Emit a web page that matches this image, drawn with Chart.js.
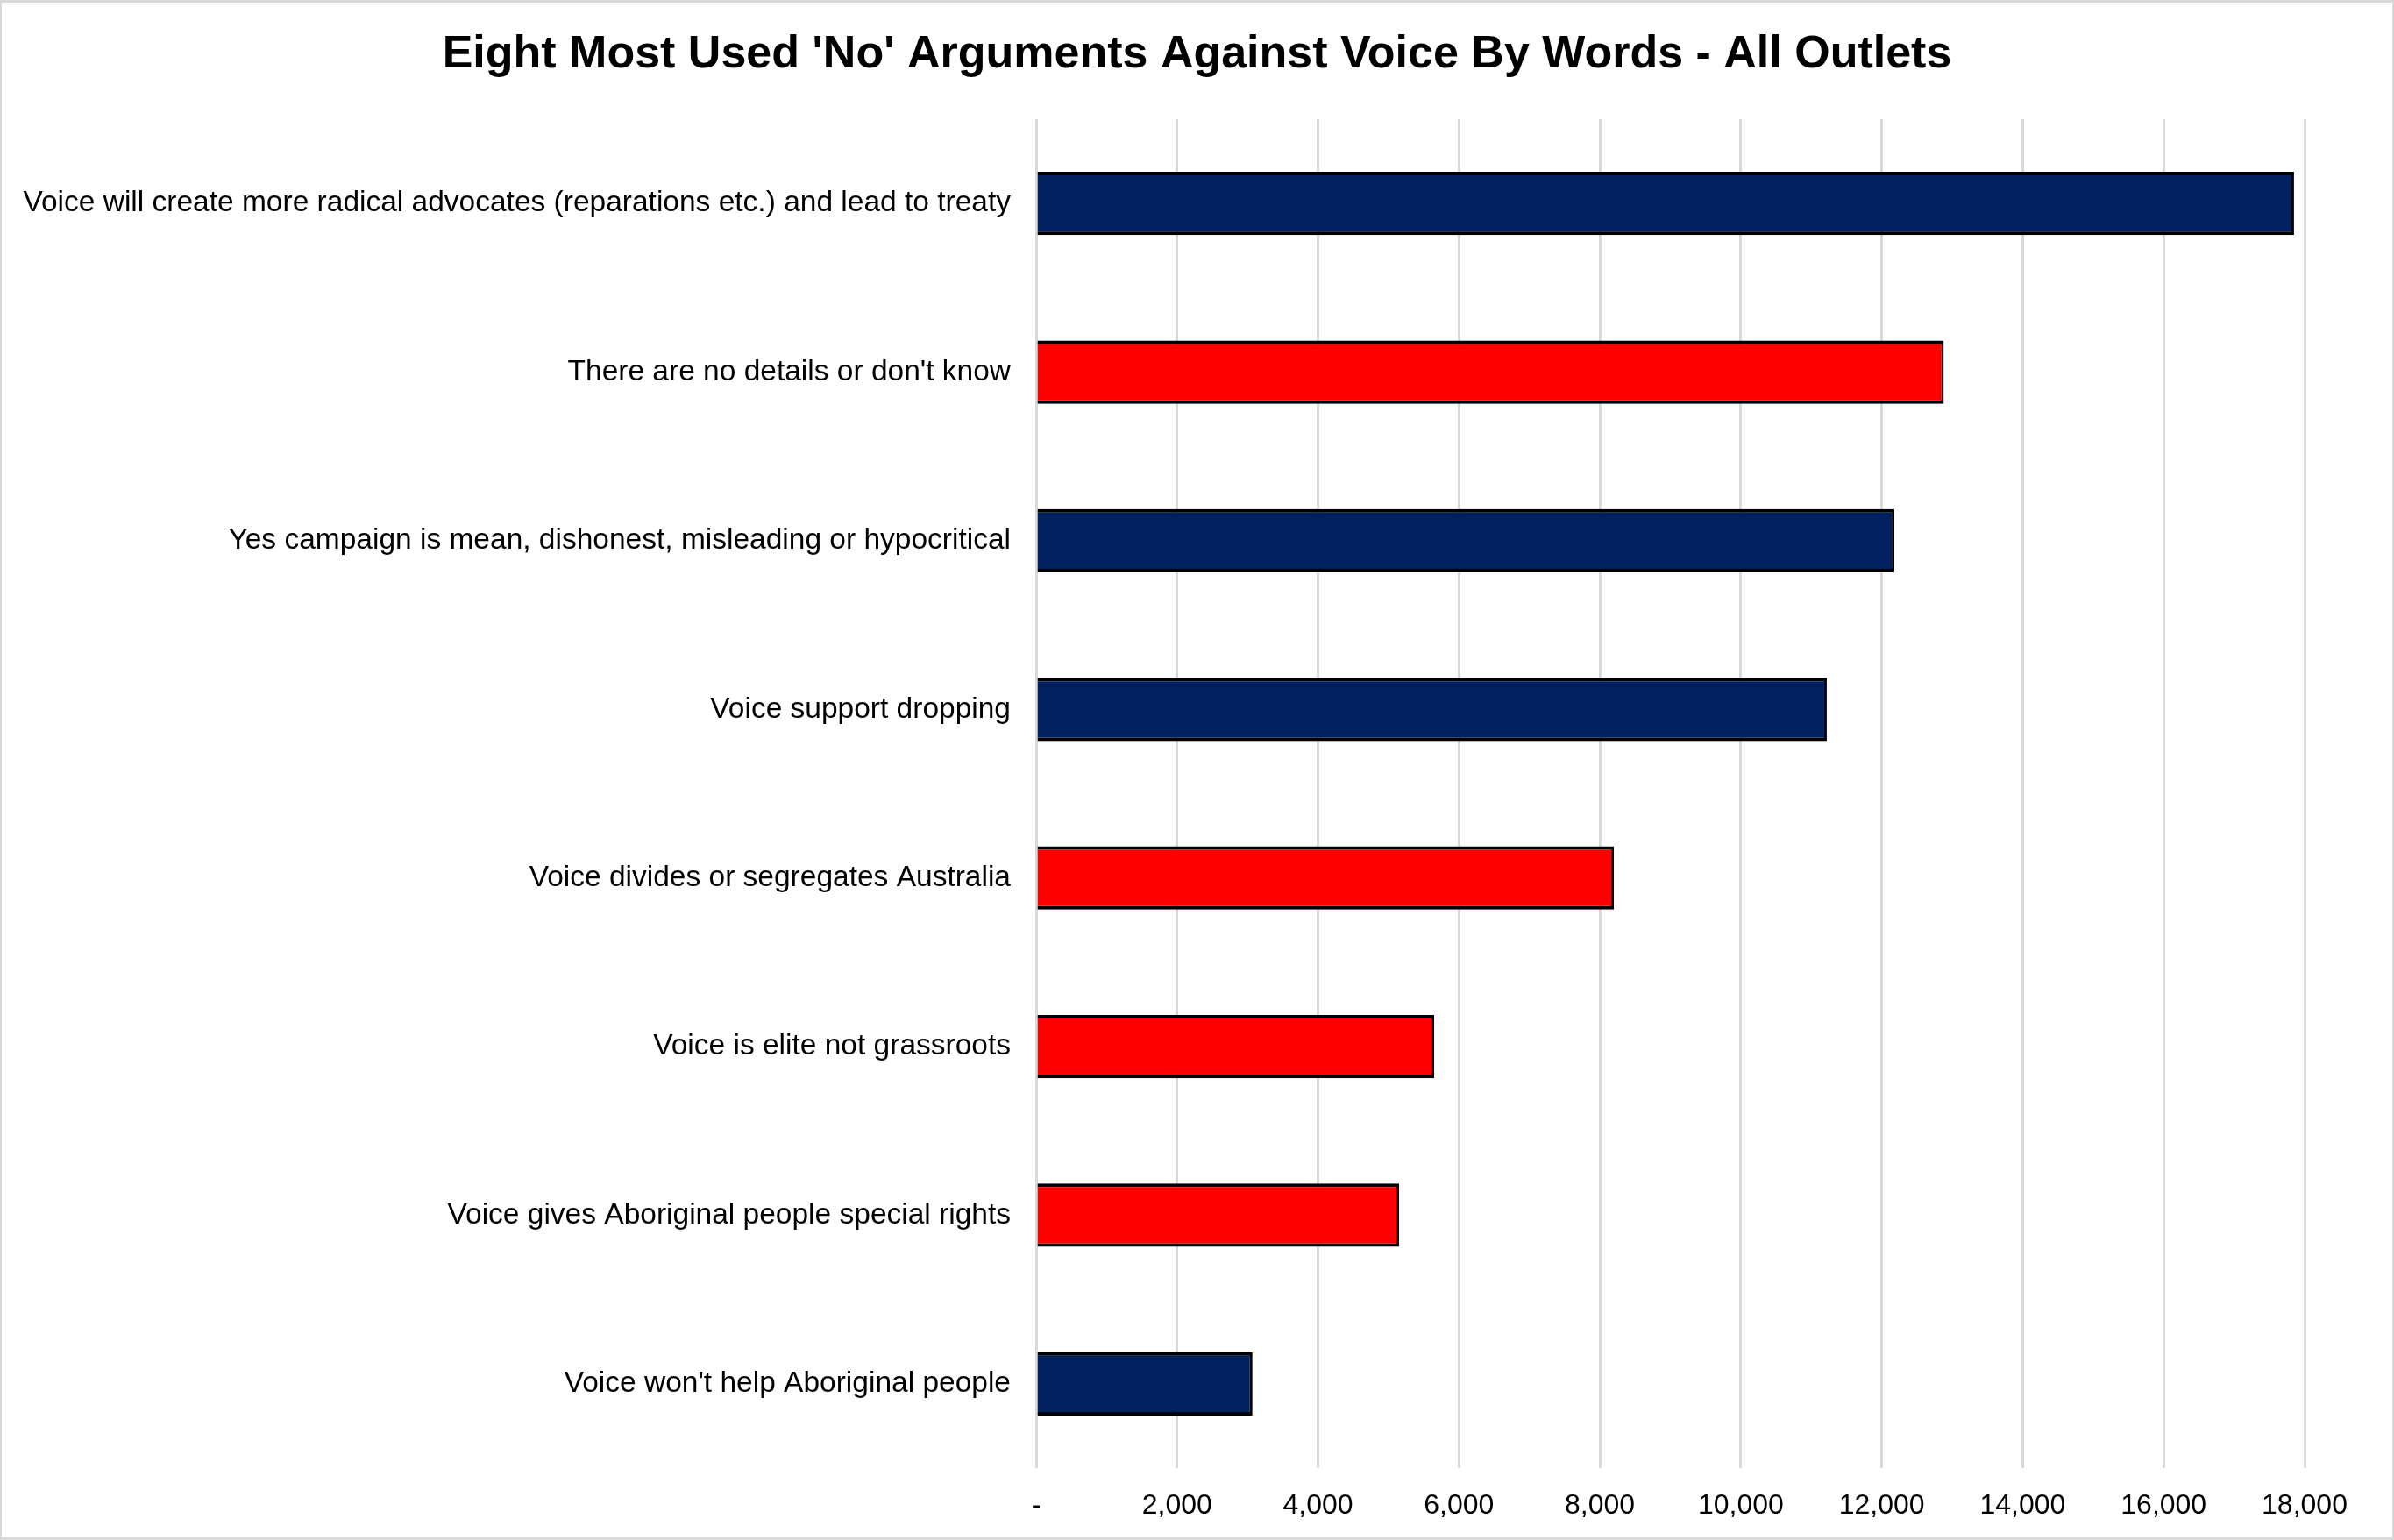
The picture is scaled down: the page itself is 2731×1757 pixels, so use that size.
<!DOCTYPE html>
<html lang="en">
<head>
    <meta charset="UTF-8">
    <title>Eight Most Used 'No' Arguments Against Voice By Words - All Outlets</title>
    <style>
        body { margin: 0; background: #fff; }
        #wrap { position: relative; width: 2731px; height: 1757px; }
        #frame {
            position: absolute; left: 0; top: 0; right: 0; bottom: 0;
            border: 3px solid #d9d9d9; border-left-width: 2px; border-right-width: 2px;
            pointer-events: none;
        }
    </style>
    <script src="https://cdn.jsdelivr.net/npm/chart.js"></script>
</head>
<body>
    <div id="wrap">
        <canvas id="argChart" width="2731" height="1757"></canvas>
        <div id="frame"></div>
    </div>

    <script>
        const chartTitle = "Eight Most Used 'No' Arguments Against Voice By Words - All Outlets";

        const categories = [
            "Voice will create more radical advocates (reparations etc.) and lead to treaty",
            "There are no details or don't know",
            "Yes campaign is mean, dishonest, misleading or hypocritical",
            "Voice support dropping",
            "Voice divides or segregates Australia",
            "Voice is elite not grassroots",
            "Voice gives Aboriginal people special rights",
            "Voice won't help Aboriginal people"
        ];

        const wordCounts = [17850, 12880, 12180, 11220, 8200, 5650, 5150, 3070];

        const axisMax = 18000;
        const axisStep = 2000;

        const navy = '#002060';
        const red = '#ff0000';
        const barColors = [navy, red, navy, navy, red, red, red, navy];

        const fontFamily = "'Liberation Sans', Arial, sans-serif";

        // the built-in title would centre over the padded box, so draw it over the whole canvas
        const canvasTitle = {
            id: 'canvasTitle',
            afterDraw(chart) {
                const c = chart.ctx;
                c.save();
                c.font = 'bold 52px ' + fontFamily;
                c.fillStyle = '#000';
                c.textAlign = 'center';
                c.textBaseline = 'middle';
                c.fillText(chartTitle, chart.width / 2, 63);
                c.restore();
            }
        };

        const ctx = document.getElementById('argChart').getContext('2d');
        const argChart = new Chart(ctx, {
            type: 'bar',
            data: {
                labels: categories,
                datasets: [{
                    data: wordCounts,
                    backgroundColor: barColors,
                    borderColor: '#000',
                    borderWidth: { top: 4, bottom: 4, right: 3, left: 0 },
                    borderSkipped: 'start',
                    categoryPercentage: 1,
                    barPercentage: 0.375
                }]
            },
            options: {
                indexAxis: 'y',
                responsive: false,
                animation: false,
                layout: {
                    padding: { left: 0, right: 102, top: 136, bottom: 0 }
                },
                plugins: {
                    legend: { display: false },
                    tooltip: { enabled: false },
                    title: { display: false }
                },
                scales: {
                    x: {
                        min: 0,
                        max: axisMax,
                        afterFit: function(scale) { scale.height = 82; },
                        grid: {
                            color: '#d9d9d9',
                            lineWidth: 3,
                            drawTicks: false
                        },
                        border: { display: false },
                        ticks: {
                            stepSize: axisStep,
                            padding: 24,
                            color: '#000',
                            font: { family: fontFamily, size: 32 },
                            callback: function(value) {
                                return value === 0 ? '-' : value.toLocaleString('en-US');
                            }
                        }
                    },
                    y: {
                        afterFit: function(scale) { scale.width = 1182; },
                        grid: { display: false, drawTicks: false },
                        border: { display: false },
                        ticks: {
                            padding: 29,
                            color: '#000',
                            font: { family: fontFamily, size: 33.5 }
                        }
                    }
                }
            },
            plugins: [canvasTitle]
        });
    </script>
</body>
</html>
